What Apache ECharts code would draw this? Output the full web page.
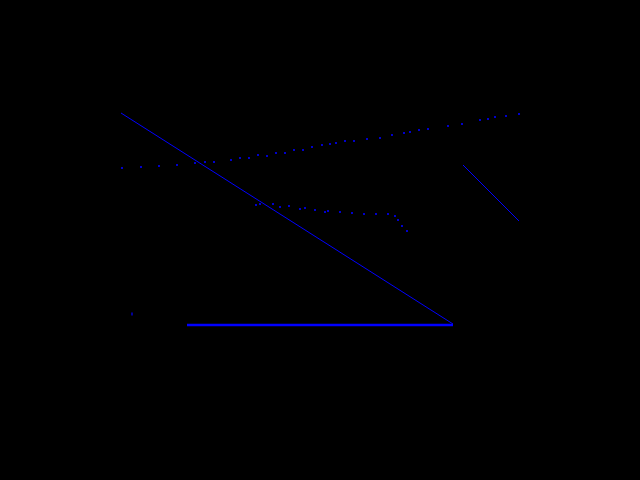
<!DOCTYPE html>
<html><head><meta charset="utf-8">
<script src="https://cdn.jsdelivr.net/npm/echarts@6/dist/echarts.min.js"></script>
<style>html,body{margin:0;background:#000}#c{width:640px;height:480px}</style>
</head><body><div id="c"></div>
<script>
const diagX = [121, 453];
const diagY = [113, 324];
const flatX = [187, 453];
const flatY = [325, 325];
const shortX = [463, 519];
const shortY = [165, 221];
const upperX = [122,141,159,177,195,205,214,231,240,249,258,267,276,285,294,303,312,322,330,336,345,354,367,380,392,404,410,419,428,448,462,480,488,495,506,519];
const upperY = [168,167,166,165,163,162,162,160,158,158,155,156,153,153,150,150,147,145,144,143,141,141,139,138,135,133,132,130,129,126,124,120,119,117,116,114];
const lowerX = [256,260,273,280,289,300,305,315,325,328,340,352,364,376,388,395,398,402,407];
const lowerY = [205,204,204,207,206,209,208,210,212,211,212,213,214,214,214,216,220,226,231];
const lonePt = [[132,314]];

const zip = (xs, ys) => xs.map((x, i) => [x, ys[i]]);
const chart = echarts.init(document.getElementById('c'));
chart.setOption({
  backgroundColor: '#000',
  animation: false,
  grid: {left: 0, right: 0, top: 0, bottom: 0},
  xAxis: {type: 'value', min: 0, max: 640, show: false},
  yAxis: {type: 'value', min: 0, max: 480, inverse: true, show: false},
  series: [
    {type: 'line', data: zip(diagX, diagY), symbol: 'none', lineStyle: {color: '#0000ff', width: 1}},
    {type: 'line', data: zip(flatX, flatY), symbol: 'none', lineStyle: {color: '#0000ff', width: 2.5}},
    {type: 'line', data: zip(shortX, shortY), symbol: 'none', lineStyle: {color: '#0000ff', width: 1}},
    {type: 'scatter', data: zip(upperX, upperY), symbol: 'rect', symbolSize: 2, itemStyle: {color: '#0000ff'}},
    {type: 'scatter', data: zip(lowerX, lowerY), symbol: 'rect', symbolSize: 2, itemStyle: {color: '#0000ff'}},
    {type: 'scatter', data: lonePt, symbol: 'rect', symbolSize: [1.5, 3], itemStyle: {color: '#0000ff'}}
  ]
});
</script></body></html>
